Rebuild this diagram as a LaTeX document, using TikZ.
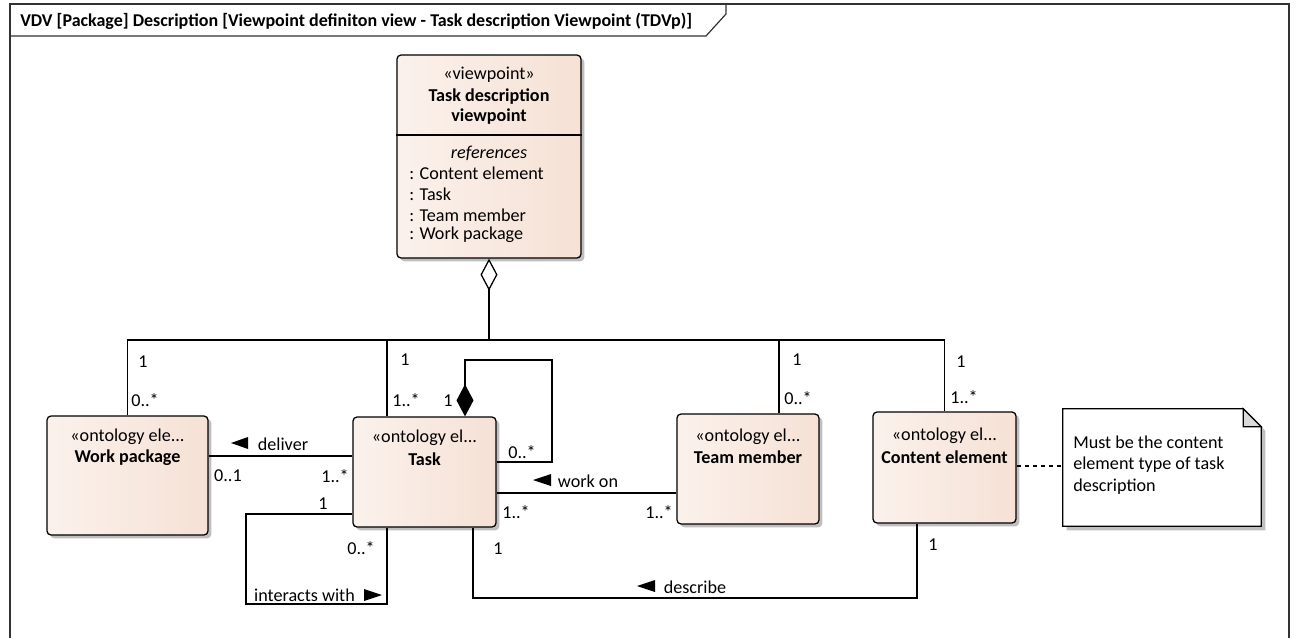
\documentclass[tikz,border=0pt]{standalone}
\usepackage{fontspec}
\setmainfont{Carlito}
\usetikzlibrary{calc,shadows,arrows.meta}
\definecolor{pkA}{RGB}{240,211,193}
\definecolor{pkB}{RGB}{252,245,241}
\definecolor{pkC}{RGB}{243,217,202}
\definecolor{framec}{RGB}{50,50,50}
\pgfdeclarehorizontalshading{ontshade}{100bp}{color(0bp)=(pkA); color(14bp)=(pkB); color(100bp)=(pkC)}
\tikzset{
  box/.style={draw=black, line width=0.95pt, rounded corners=3pt, shading=ontshade,
    drop shadow={shadow xshift=2.5pt, shadow yshift=-2.5pt, fill=black, opacity=0.25},
    inner sep=0pt},
  txt/.style={font=\fontsize{13.6}{15.5}\selectfont, inner sep=0pt},
  btxt/.style={txt, font=\fontsize{13.6}{15.5}\selectfont\bfseries},
  lbl/.style={txt},
  ln/.style={line width=0.95pt, draw=black},
  tri/.style={fill=black}
}
\begin{document}
\begin{tikzpicture}[x=0.75pt,y=-0.75pt]
\useasboundingbox (0,0) rectangle (1297,637);
\clip (0,0) rectangle (1297,637);
% frame
\draw[framec, line width=0.9pt] (10,660) -- (10,4) -- (1289,4) -- (1289,660);
\draw[framec, line width=0.9pt] (10,36) -- (706,36) -- (726,14) -- (726,4);
\node[btxt, font=\fontsize{13.5}{15.5}\selectfont\bfseries, anchor=west] (title) at (20,21) {VDV [Package] Description [Viewpoint definiton view - Task description Viewpoint (TDVp)]};

% boxes
\node[box, minimum width=138pt, minimum height=152.25pt] (vp) at (489,156.5) {};
\node[box, minimum width=120.75pt, minimum height=89.25pt] (wp) at (127.5,475.5) {};
\node[box, minimum width=107.25pt, minimum height=82.5pt] (task) at (424.5,472) {};
\node[box, minimum width=106.5pt, minimum height=82.5pt] (tm) at (748,469) {};
\node[box, minimum width=107.25pt, minimum height=83.25pt] (ce) at (944.5,467.5) {};

% viewpoint texts
\draw[ln] (vp.west |- 0,135) -- (vp.east |- 0,135);
\node[txt] (vp1) at (489,75) {«viewpoint»};
\node[btxt] (vp2) at (489,97) {Task description};
\node[btxt] (vp3) at (489,117) {viewpoint};
\node[txt, font=\fontsize{13.6}{15.5}\selectfont\itshape] (vp4) at (489,153) {references};
\node[txt, anchor=west] (vp5) at (409,173) {: Content element};
\node[txt, anchor=west] (vp6) at (409,194) {: Task};
\node[txt, anchor=west] (vp7) at (409,215) {: Team member};
\node[txt, anchor=west] (vp8) at (409,235) {: Work package};

% ontology texts
\node[txt] (wp1) at (127.5,437) {«ontology ele...};
\node[btxt] (wp2) at (127.5,458) {Work package};
\node[txt] (t1) at (424.5,438) {«ontology el...};
\node[btxt] (t2) at (424.5,459) {Task};
\node[txt] (tm1) at (748,437) {«ontology el...};
\node[btxt] (tm2) at (748,457) {Team member};
\node[txt] (ce1) at (944.5,436) {«ontology el...};
\node[btxt] (ce2) at (944.5,457) {Content element};

% note
\node[minimum width=148.5pt, minimum height=87.75pt, inner sep=0pt] (note) at (1162,467.5) {};
\fill[black, opacity=0.25] ($(note.north west)+(4,4)$) -- ($(note.north east)+(-14,4)$) -- ($(note.north east)+(4,22)$) -- ($(note.south east)+(4,4)$) -- ($(note.south west)+(4,4)$) -- cycle;
\draw[ln, fill=white] (note.north west) -- ($(note.north east)+(-18,0)$) -- ($(note.north east)+(0,18)$) -- (note.south east) -- (note.south west) -- cycle;
\draw[ln, fill=black!15] ($(note.north east)+(-18,0)$) -- ($(note.north east)+(-18,18)$) -- ($(note.north east)+(0,18)$) -- cycle;
\node[txt, anchor=west, align=left, font=\fontsize{13.6}{16}\selectfont] (notetxt) at (1073,465) {Must be the content\\element type of task\\description};
\draw[ln, dash pattern=on 3pt off 3pt] (ce.east |- 0,466) -- (note.west |- 0,466);

% aggregation bus
\coordinate (bus) at (489,340);
\draw[ln, -{Diamond[fill=white, length=24pt, width=12.75pt]}] (bus) -- (vp.south);
\draw[ln] (wp.north) -- (wp.north |- bus) -- (ce.north |- bus) -- (ce.north);
\coordinate (tbus) at (387,340);
\draw[ln] (tbus) -- (tbus |- task.north);
\coordinate (mbus) at (779,340);
\draw[ln] (mbus) -- (mbus |- tm.north);

% composition self loop
\coordinate (tdia) at (465,360);
\coordinate (lpc) at (552,360);
\draw[ln, -{Diamond[length=24pt, width=12.75pt]}] (task.east |- 0,462) -| (lpc) -- (tdia) -- (tdia |- task.north);

% deliver
\draw[ln] (wp.east |- 0,456) -- (task.west |- 0,456);
% work on
\draw[ln] (task.east |- 0,493) -- (tm.west |- 0,493);
% interacts with
\coordinate (ia) at (246,604);
\coordinate (ib) at (387,604);
\draw[ln] (task.west |- 0,514) -- (ia |- 0,514) -- (ia) -- (ib) -- (ib |- task.south);
% describe
\coordinate (da) at (473,598);
\coordinate (db) at (917,598);
\draw[ln] (da |- task.south) -- (da) -- (db) -- (db |- ce.south);

% multiplicities
\node[lbl] (m1) at (143,362) {1};
\node[lbl] (m2) at (145,400) {0..*};
\node[lbl] (m3) at (405,360) {1};
\node[lbl] (m4) at (406,400) {1..*};
\node[lbl] (m5) at (448,401) {1};
\node[lbl] (m6) at (522,452) {0..*};
\node[lbl] (m7) at (228,476) {0..1};
\node[lbl] (m8) at (335,476) {1..*};
\node[lbl] (m9) at (323,504) {1};
\node[lbl] (m10) at (361,548) {0..*};
\node[lbl] (m11) at (516,512) {1..*};
\node[lbl] (m12) at (659,512) {1..*};
\node[lbl] (m13) at (797,360) {1};
\node[lbl] (m14) at (798,398) {0..*};
\node[lbl] (m15) at (961,362) {1};
\node[lbl] (m16) at (964,397) {1..*};
\node[lbl] (m17) at (933,545) {1};
\node[lbl] (m18) at (498,549) {1};

% association names
\node[lbl] (n1) at (283,444) {deliver};
\fill[tri] (248,437) -- (248,449) -- (231,443) -- cycle;
\node[lbl] (n2) at (588,481) {work on};
\fill[tri] (551,474) -- (551,486) -- (533,480) -- cycle;
\node[lbl] (n3) at (695,587) {describe};
\fill[tri] (655,580) -- (655,592) -- (637,586) -- cycle;
\node[lbl] (n4) at (304.5,595) {interacts with};
\fill[tri] (364,589) -- (364,601) -- (382,595) -- cycle;
\end{tikzpicture}
\end{document}
